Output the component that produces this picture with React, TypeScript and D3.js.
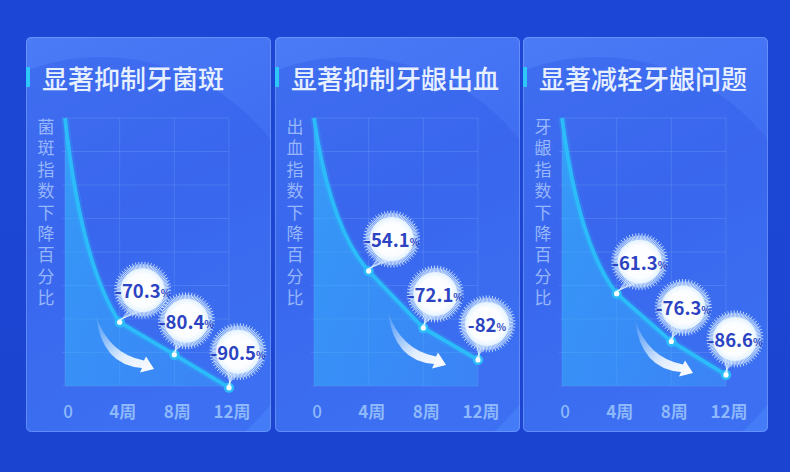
import React from 'react';
import * as d3 from 'd3';

// chart data
const weeks = [0, 4, 8, 12];
const tickLabels = ['0', '4周', '8周', '12周'];
const titles = ['显著抑制牙菌斑', '显著抑制牙龈出血', '显著减轻牙龈问题'];
const axisLabels = ['菌斑指数下降百分比', '出血指数下降百分比', '牙龈指数下降百分比'];
const plaqueValues = [0, -70.3, -80.4, -90.5];
const bleedingValues = [0, -54.1, -72.1, -82];
const gingivalValues = [0, -61.3, -76.3, -86.6];

const series = [plaqueValues, bleedingValues, gingivalValues];

const W = 790;
const H = 472;
const panelX = [26, 275, 523];
const panelW = 245;
const panelTop = 37;
const panelH = 395;
const gridTop = 118;
const gridBottom = 386;
const gridW = 164;
const FONT = '"Noto Sans CJK SC", "Noto Sans", sans-serif';

// bubble offsets from the point, per index
const bubbleOffset = [[0, 0], [23, -32], [12, -34], [9, -36]];
// arrow tip relative to the grid origin (decoration)
const arrowTip = [[89, 251], [132, 247], [131, 255]];

const y = d3.scalePow().exponent(1.1).domain([0, -90]).range([gridTop, gridBottom]);
const gridRows = d3.range(0, 9).map(i => gridTop + (i * (gridBottom - gridTop)) / 8);

function Bubble({ cx, cy, px, py, label }: { cx: number; cy: number; px: number; py: number; label: string }) {
  const rays = d3.range(110).map(i => (i / 110) * Math.PI * 2);
  // tail lines towards the point
  const tail = d3.range(7).map(i => {
    const a = Math.PI / 2 + 0.3 + (i - 3) * 0.12;
    return { x: cx + Math.cos(a) * 20, y: cy + Math.sin(a) * 20 };
  });
  return (
    <g>
      {tail.map((t, i) => (
        <line key={'t' + i} x1={t.x} y1={t.y} x2={px + (i - 3) * 0.6} y2={py - 2}
          stroke="#dff3ff" strokeOpacity={0.7} strokeWidth={0.8} />
      ))}
      <circle cx={cx} cy={cy} r={27} fill="url(#bubbleGlow)" />
      {rays.map((a, i) => (
        <line key={i}
          x1={cx + Math.cos(a) * 18} y1={cy + Math.sin(a) * 18}
          x2={cx + Math.cos(a) * (i % 2 ? 26 : 28.5)} y2={cy + Math.sin(a) * (i % 2 ? 26 : 28.5)}
          stroke="#f1f9ff" strokeWidth={0.8} strokeOpacity={0.95} />
      ))}
      <circle cx={cx} cy={cy} r={22} fill="url(#bubbleFill)" />
      <text x={cx} y={cy} textAnchor="middle" dominantBaseline="central"
        fontFamily={FONT} fontWeight={700} fill="#2c44c2">
        <tspan fontSize={18.5}>{label}</tspan>
        <tspan fontSize={10} dy={2}>%</tspan>
      </text>
    </g>
  );
}

function Panel({ idx }: { idx: number }) {
  const px = panelX[idx];
  const x0 = px + 39;
  const x = d3.scaleLinear().domain([0, 12]).range([x0, x0 + gridW]);
  const values = series[idx];
  const pts: [number, number][] = weeks.map((w, i) => [x(w), y(values[i])]);

  // first segment slightly curved, the rest straight
  const buildLine = () => {
    const p = d3.path();
    const [a, b] = pts;
    p.moveTo(a[0], a[1]);
    p.quadraticCurveTo(a[0] + 0.3 * (b[0] - a[0]), a[1] + 0.72 * (b[1] - a[1]), b[0], b[1]);
    pts.slice(2).forEach(q => p.lineTo(q[0], q[1]));
    return p;
  };
  const lineD = buildLine().toString();
  const areaPath = buildLine();
  areaPath.lineTo(pts[pts.length - 1][0], gridBottom);
  areaPath.lineTo(pts[0][0], gridBottom);
  areaPath.closePath();

  const [tx, ty] = arrowTip[idx];
  const ax = x0 + tx;
  const ay = gridTop + ty;

  return (
    <g>
      <clipPath id={'clip' + idx}>
        <rect x={px} y={panelTop} width={panelW} height={panelH} rx={5} />
      </clipPath>
      <rect x={px} y={panelTop} width={panelW} height={panelH} rx={5} fill="url(#panelFill)" />
      <g clipPath={`url(#clip${idx})`}>
        <circle cx={px + 75} cy={panelTop + 235} r={215} fill="#2f5ae6" fillOpacity={0.35} />
      </g>
      <rect x={px + 0.5} y={panelTop + 0.5} width={panelW - 1} height={panelH - 1} rx={5}
        fill="none" stroke="#8fb2ff" strokeOpacity={0.45} />

      {/* title */}
      <rect x={px} y={67} width={4} height={20} fill="#2ec7f9" />
      <text x={px + 16} y={77} dominantBaseline="central" fontFamily={FONT}
        fontSize={26} fontWeight={500} fill="#e6f0ff">{titles[idx]}</text>

      {/* grid */}
      {gridRows.map((gy, i) => (
        <line key={'h' + i} x1={x0 - 3} x2={x0 + gridW} y1={gy} y2={gy}
          stroke="#8cb4ff" strokeOpacity={0.22} />
      ))}
      {weeks.map(w => (
        <line key={'v' + w} x1={x(w)} x2={x(w)} y1={gridTop} y2={gridBottom}
          stroke="#8cb4ff" strokeOpacity={0.22} />
      ))}

      {/* y label, vertical */}
      <text x={px + 20} y={118} fontFamily={FONT} fontSize={17} fill="#a9c6ff" fillOpacity={0.85}
        style={{ writingMode: 'vertical-rl', letterSpacing: '4.4px' }}>
        {axisLabels[idx]}
      </text>

      {/* area + line */}
      <path d={areaPath.toString()} fill="url(#areaFill)" />
      <path d={lineD} fill="none" stroke="#29b9f8" strokeWidth={8} strokeOpacity={0.22} />
      <path d={lineD} fill="none" stroke="#2cbcf9" strokeWidth={3.8} strokeLinejoin="round" />

      {/* arrow */}
      <path transform={`translate(${ax},${ay})`}
        d="M -58,-53 Q -45,-15 -10,-8.5 L -8,-12.5 L 0,0 L -14,3.5 L -12,-1 Q -52,-4 -58,-53 Z"
        fill="url(#arrowFill)" />

      {/* points */}
      {pts.slice(1).map((d, i) => (
        <g key={'p' + i}>
          <circle cx={d[0]} cy={d[1]} r={5.2} fill="#2cbcf9" />
          <circle cx={d[0]} cy={d[1]} r={2.6} fill="#ffffff" />
        </g>
      ))}

      {/* bubbles */}
      {pts.slice(1).map((d, i) => {
        const [ox, oy] = bubbleOffset[i + 1];
        return (
          <Bubble key={'b' + i} cx={d[0] + ox} cy={d[1] + oy}
            px={d[0]} py={d[1]} label={String(values[i + 1])} />
        );
      })}

      {/* x labels */}
      {weeks.map((w, i) => (
        <text key={'x' + w} x={x(w) + 3} y={410} textAnchor="middle" dominantBaseline="central"
          fontFamily={FONT} fontSize={17} fontWeight={i === 0 ? 500 : 700}
          fill="#8db8fb">{tickLabels[i]}</text>
      ))}
    </g>
  );
}

export default function App() {
  return (
    <div style={{ position: 'absolute', left: 0, top: 0 }}>
      <svg width={W} height={H} viewBox={`0 0 ${W} ${H}`}>
        <defs>
          <linearGradient id="bgFill" x1="0" y1="0" x2="0" y2="1">
            <stop offset="0" stopColor="#1c47d6" />
            <stop offset="1" stopColor="#1b44d0" />
          </linearGradient>
          <linearGradient id="panelFill" x1="0" y1="0" x2="0.3" y2="1">
            <stop offset="0" stopColor="#4c7bf6" />
            <stop offset="0.5" stopColor="#3f6ef2" />
            <stop offset="1" stopColor="#447bf7" />
          </linearGradient>
          <linearGradient id="areaFill" x1="0" y1="0" x2="1" y2="1">
            <stop offset="0" stopColor="#35c0ff" stopOpacity={0.6} />
            <stop offset="0.6" stopColor="#35b6ff" stopOpacity={0.45} />
            <stop offset="1" stopColor="#3aa8ff" stopOpacity={0.35} />
          </linearGradient>
          <linearGradient id="arrowFill" x1="0" y1="0" x2="1" y2="1">
            <stop offset="0" stopColor="#ffffff" stopOpacity={0.05} />
            <stop offset="0.6" stopColor="#ffffff" stopOpacity={0.85} />
            <stop offset="1" stopColor="#ffffff" stopOpacity={1} />
          </linearGradient>
          <radialGradient id="bubbleFill">
            <stop offset="0" stopColor="#ffffff" />
            <stop offset="0.75" stopColor="#fbfdff" />
            <stop offset="1" stopColor="#e3f2ff" />
          </radialGradient>
          <radialGradient id="bubbleGlow">
            <stop offset="0.6" stopColor="#cfeaff" stopOpacity={0.7} />
            <stop offset="1" stopColor="#7cc6ff" stopOpacity={0.15} />
          </radialGradient>
        </defs>
        <rect width={W} height={H} fill="url(#bgFill)" />
        {titles.map((t, i) => <Panel key={t} idx={i} />)}
      </svg>
    </div>
  );
}
